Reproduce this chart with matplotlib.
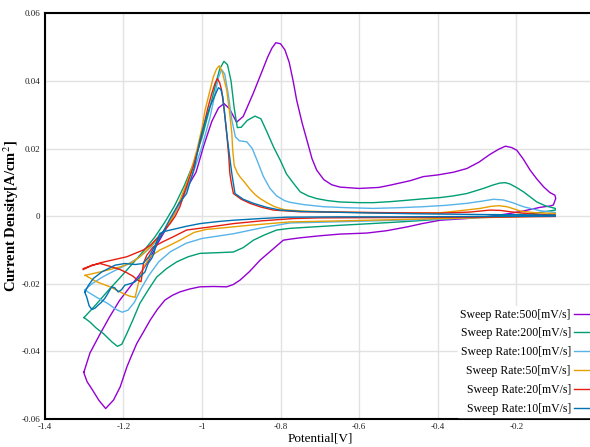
"""Cyclic voltammograms at six sweep rates, recreated with matplotlib.

    python plot.py  ->  out.png
"""
import matplotlib

matplotlib.use("Agg")
import matplotlib.pyplot as plt  # noqa: E402

# sweep rates, top to bottom in the legend
rates = [500, 200, 100, 50, 20, 10]
colors = ["#9400D3", "#009E73", "#56B4E9", "#E69F00", "#E51E10", "#0072B2"]

# each loop: anodic branch left -> right, then cathodic branch back to the start
v500 = [-1.300, -1.285, -1.260, -1.235, -1.210, -1.185, -1.160, -1.135, -1.110, -1.080,
        -1.045, -1.015, -0.995, -0.975, -0.958, -0.944, -0.930, -0.912, -0.895, -0.870,
        -0.850, -0.833, -0.822, -0.812, -0.800, -0.789, -0.778, -0.768, -0.759, -0.745,
        -0.733, -0.720, -0.708, -0.690, -0.670, -0.649, -0.600, -0.550, -0.520, -0.470,
        -0.437, -0.400, -0.360, -0.326, -0.295, -0.267, -0.245, -0.228, -0.212, -0.199,
        -0.182, -0.165, -0.148, -0.131, -0.115, -0.102, -0.100,
        -0.106, -0.115, -0.140, -0.180, -0.216, -0.270, -0.326, -0.394, -0.440, -0.479,
        -0.530, -0.581, -0.649, -0.700, -0.750, -0.776, -0.793, -0.820, -0.852, -0.880,
        -0.903, -0.920, -0.937, -0.970, -1.005, -1.030, -1.056, -1.075, -1.094, -1.113,
        -1.132, -1.150, -1.166, -1.180, -1.191, -1.208, -1.225, -1.245, -1.262, -1.278,
        -1.292, -1.300, -1.300]
i500 = [-0.0460, -0.0405, -0.0350, -0.0298, -0.0250, -0.0212, -0.0175, -0.0130, -0.0075, -0.0015,
        0.0070, 0.0130, 0.0210, 0.0280, 0.0320, 0.0333, 0.0318, 0.0278, 0.0295, 0.0362,
        0.0420, 0.0470, 0.0497, 0.0513, 0.0510, 0.0492, 0.0455, 0.0400, 0.0343, 0.0275,
        0.0225, 0.0170, 0.0136, 0.0108, 0.0093, 0.0086, 0.0082, 0.0085, 0.0092, 0.0105,
        0.0117, 0.0122, 0.0130, 0.0141, 0.0160, 0.0183, 0.0198, 0.0207, 0.0203, 0.0195,
        0.0168, 0.0136, 0.0110, 0.0087, 0.0070, 0.0062, 0.0052,
        0.0033, 0.0030, 0.0026, 0.0016, 0.0008, -0.0001, -0.0007, -0.0012, -0.0022, -0.0032,
        -0.0043, -0.0050, -0.0053, -0.0058, -0.0064, -0.0068, -0.0071, -0.0098, -0.0130, -0.0165,
        -0.0189, -0.0202, -0.0209, -0.0208, -0.0209, -0.0215, -0.0224, -0.0234, -0.0248, -0.0275,
        -0.0308, -0.0345, -0.0377, -0.0415, -0.0446, -0.0505, -0.0544, -0.0569, -0.0545, -0.0515,
        -0.0490, -0.0465, -0.0460]

v200 = [-1.300, -1.270, -1.240, -1.210, -1.180, -1.150, -1.120, -1.094, -1.070, -1.045,
        -1.020, -0.998, -0.980, -0.965, -0.955, -0.944, -0.935, -0.926, -0.918, -0.910,
        -0.900, -0.885, -0.865, -0.850, -0.835, -0.818, -0.801, -0.785, -0.767, -0.750,
        -0.730, -0.708, -0.680, -0.649, -0.600, -0.564, -0.520, -0.479, -0.440, -0.394,
        -0.360, -0.326, -0.284, -0.260, -0.242, -0.228, -0.216, -0.200, -0.182, -0.165,
        -0.148, -0.125, -0.101,
        -0.101, -0.157, -0.242, -0.300, -0.369, -0.430, -0.496, -0.570, -0.649, -0.720,
        -0.776, -0.810, -0.840, -0.869, -0.895, -0.920, -0.960, -1.005, -1.035, -1.064,
        -1.090, -1.115, -1.135, -1.158, -1.175, -1.191, -1.204, -1.215, -1.229, -1.251,
        -1.270, -1.285, -1.300]
i200 = [-0.0300, -0.0262, -0.0222, -0.0184, -0.0145, -0.0105, -0.0062, -0.0017, 0.0030, 0.0090,
        0.0160, 0.0240, 0.0320, 0.0390, 0.0435, 0.0458, 0.0448, 0.0400, 0.0320, 0.0262,
        0.0263, 0.0283, 0.0296, 0.0288, 0.0250, 0.0205, 0.0166, 0.0125, 0.0097, 0.0072,
        0.0060, 0.0052, 0.0046, 0.0042, 0.0040, 0.0040, 0.0043, 0.0047, 0.0051, 0.0055,
        0.0060, 0.0067, 0.0082, 0.0092, 0.0098, 0.0099, 0.0095, 0.0085, 0.0072, 0.0057,
        0.0042, 0.0030, 0.0023,
        0.0018, 0.0008, 0.0001, -0.0003, -0.0007, -0.0012, -0.0017, -0.0022, -0.0027, -0.0032,
        -0.0036, -0.0041, -0.0055, -0.0071, -0.0093, -0.0106, -0.0108, -0.0110, -0.0120, -0.0135,
        -0.0155, -0.0180, -0.0215, -0.0258, -0.0305, -0.0347, -0.0379, -0.0385, -0.0372, -0.0347,
        -0.0330, -0.0313, -0.0300]

v100 = [-1.298, -1.280, -1.250, -1.220, -1.190, -1.160, -1.130, -1.100, -1.075, -1.050,
        -1.025, -1.000, -0.980, -0.967, -0.958, -0.950, -0.942, -0.933, -0.924, -0.915,
        -0.905, -0.886, -0.872, -0.858, -0.844, -0.827, -0.810, -0.790, -0.776, -0.740,
        -0.691, -0.630, -0.564, -0.500, -0.437, -0.380, -0.326, -0.290, -0.258, -0.233,
        -0.210, -0.182, -0.140, -0.101,
        -0.101, -0.200, -0.300, -0.400, -0.500, -0.600, -0.700, -0.776, -0.850, -0.920,
        -1.000, -1.040, -1.080, -1.110, -1.135, -1.155, -1.172, -1.188, -1.203, -1.218,
        -1.240, -1.265, -1.285, -1.298]
i100 = [-0.0218, -0.0200, -0.0178, -0.0160, -0.0143, -0.0122, -0.0092, -0.0050, -0.0005, 0.0050,
        0.0120, 0.0205, 0.0290, 0.0360, 0.0410, 0.0434, 0.0420, 0.0360, 0.0285, 0.0235,
        0.0223, 0.0220, 0.0200, 0.0160, 0.0118, 0.0082, 0.0060, 0.0046, 0.0041, 0.0034,
        0.0028, 0.0025, 0.0023, 0.0025, 0.0028, 0.0032, 0.0038, 0.0044, 0.0050, 0.0048,
        0.0040, 0.0028, 0.0016, 0.0011,
        0.0005, 0.0000, -0.0005, -0.0009, -0.0012, -0.0015, -0.0018, -0.0020, -0.0035, -0.0052,
        -0.0066, -0.0080, -0.0105, -0.0135, -0.0175, -0.0215, -0.0255, -0.0278, -0.0284, -0.0276,
        -0.0258, -0.0242, -0.0228, -0.0218]

v50 = [-1.297, -1.259, -1.208, -1.180, -1.158, -1.140, -1.124, -1.105, -1.090, -1.073,
       -1.055, -1.039, -1.025, -1.013, -1.000, -0.992, -0.980, -0.971, -0.963, -0.956,
       -0.948, -0.937, -0.930, -0.924, -0.922, -0.918, -0.910, -0.903, -0.890, -0.878,
       -0.865, -0.852, -0.835, -0.815, -0.790, -0.742, -0.650, -0.521, -0.394, -0.369,
       -0.330, -0.292, -0.265, -0.245, -0.224, -0.205, -0.190, -0.150, -0.101,
       -0.101, -0.200, -0.350, -0.500, -0.650, -0.776, -0.880, -0.950, -0.988, -1.020,
       -1.056, -1.085, -1.107, -1.132, -1.148, -1.158, -1.165, -1.170, -1.185, -1.200,
       -1.234, -1.268, -1.297]
i50 = [-0.0175, -0.0165, -0.0150, -0.0138, -0.0120, -0.0100, -0.0081, -0.0055, -0.0032, -0.0002,
       0.0050, 0.0097, 0.0145, 0.0195, 0.0260, 0.0314, 0.0370, 0.0412, 0.0435, 0.0445,
       0.0425, 0.0373, 0.0310, 0.0245, 0.0200, 0.0150, 0.0128, 0.0116, 0.0098, 0.0080,
       0.0064, 0.0052, 0.0040, 0.0028, 0.0019, 0.0015, 0.0012, 0.0009, 0.0010, 0.0013,
       0.0018, 0.0023, 0.0029, 0.0031, 0.0028, 0.0021, 0.0015, 0.0010, 0.0008,
       0.0002, -0.0002, -0.0006, -0.0010, -0.0014, -0.0017, -0.0027, -0.0035, -0.0039, -0.0048,
       -0.0071, -0.0088, -0.0100, -0.0120, -0.0150, -0.0180, -0.0215, -0.0240, -0.0236, -0.0229,
       -0.0209, -0.0194, -0.0175]

v20 = [-1.302, -1.259, -1.191, -1.149, -1.130, -1.115, -1.098, -1.081, -1.068, -1.056,
       -1.040, -1.022, -1.008, -0.996, -0.985, -0.975, -0.967, -0.961, -0.955, -0.950,
       -0.943, -0.937, -0.932, -0.929, -0.924, -0.920, -0.900, -0.878, -0.850, -0.818,
       -0.750, -0.650, -0.500, -0.394, -0.320, -0.267, -0.240, -0.216, -0.157, -0.101,
       -0.101, -0.300, -0.500, -0.700, -0.767, -0.850, -0.920, -0.980, -1.039, -1.073,
       -1.100, -1.124, -1.140, -1.149, -1.152, -1.155, -1.165, -1.175, -1.190, -1.208,
       -1.235, -1.259, -1.280, -1.302]
i20 = [-0.0155, -0.0138, -0.0120, -0.0100, -0.0085, -0.0066, -0.0045, -0.0022, 0.0000, 0.0028,
       0.0085, 0.0146, 0.0205, 0.0264, 0.0320, 0.0363, 0.0392, 0.0407, 0.0395, 0.0373,
       0.0310, 0.0245, 0.0180, 0.0126, 0.0090, 0.0067, 0.0050, 0.0038, 0.0027, 0.0018,
       0.0013, 0.0012, 0.0010, 0.0009, 0.0012, 0.0018, 0.0017, 0.0013, 0.0006, 0.0003,
       -0.0001, -0.0003, -0.0004, -0.0005, -0.0007, -0.0014, -0.0022, -0.0032, -0.0041, -0.0061,
       -0.0076, -0.0091, -0.0115, -0.0140, -0.0170, -0.0194, -0.0188, -0.0178, -0.0168, -0.0158,
       -0.0148, -0.0140, -0.0145, -0.0158]

v10 = [-1.298, -1.289, -1.276, -1.255, -1.221, -1.196, -1.170, -1.150, -1.135, -1.119,
       -1.105, -1.094, -1.080, -1.060, -1.039, -1.020, -1.005, -0.992, -0.980, -0.964,
       -0.958, -0.952, -0.947, -0.942, -0.937, -0.930, -0.924, -0.916, -0.895, -0.869,
       -0.835, -0.801, -0.750, -0.600, -0.450, -0.300, -0.200, -0.101,
       -0.101, -0.300, -0.500, -0.650, -0.784, -0.850, -0.920, -0.960, -1.005, -1.040,
       -1.073, -1.095, -1.107, -1.115, -1.122, -1.128, -1.137, -1.145, -1.158, -1.170,
       -1.183, -1.196, -1.205, -1.213, -1.222, -1.230, -1.240, -1.247, -1.256, -1.264,
       -1.272, -1.280, -1.287, -1.293, -1.298]
i10 = [-0.0225, -0.0205, -0.0184, -0.0165, -0.0145, -0.0140, -0.0143, -0.0140, -0.0120, -0.0086,
       -0.0060, -0.0036, -0.0005, 0.0035, 0.0067, 0.0140, 0.0225, 0.0280, 0.0323, 0.0365,
       0.0380, 0.0375, 0.0353, 0.0300, 0.0245, 0.0180, 0.0126, 0.0067, 0.0050, 0.0038,
       0.0026, 0.0018, 0.0014, 0.0010, 0.0007, 0.0005, 0.0004, 0.0003,
       0.0000, -0.0001, -0.0002, -0.0002, -0.0003, -0.0007, -0.0012, -0.0016, -0.0022, -0.0030,
       -0.0039, -0.0045, -0.0051, -0.0075, -0.0110, -0.0125, -0.0140, -0.0165, -0.0180, -0.0194,
       -0.0200, -0.0204, -0.0218, -0.0224, -0.0212, -0.0209, -0.0230, -0.0243, -0.0255, -0.0263,
       -0.0272, -0.0276, -0.0265, -0.0240, -0.0225]

curves_v = [v500, v200, v100, v50, v20, v10]
curves_i = [i500, i200, i100, i50, i20, i10]

xticks = [-1.4, -1.2, -1.0, -0.8, -0.6, -0.4, -0.2]
xticklabels = ["-1.4", "-1.2", "-1", "-0.8", "-0.6", "-0.4", "-0.2"]
yticks = [-0.06, -0.04, -0.02, 0.0, 0.02, 0.04, 0.06]
yticklabels = ["-0.06", "-0.04", "-0.02", "0", "0.02", "0.04", "0.06"]


def main() -> None:
    plt.rcParams["font.family"] = ["Liberation Serif", "DejaVu Serif"]
    plt.rcParams["mathtext.fontset"] = "stix"
    plt.rcParams["axes.unicode_minus"] = False

    fig = plt.figure(figsize=(5.90, 4.47), dpi=100)
    # the right edge of the plot box (V = 0) sits just outside the picture
    ax = fig.add_axes([0.0758, 0.0626, 0.9327, 0.9076])

    for rate, col, vv, ii in zip(rates, colors, curves_v, curves_i):
        ax.plot(vv, ii, color=col, lw=1.0, label=f"Sweep Rate:{rate}[mV/s]")

    ax.set_xlim(-1.4, 0.0)
    ax.set_ylim(-0.06, 0.06)
    ax.set_xticks(xticks)
    ax.set_xticklabels(xticklabels)
    ax.set_yticks(yticks)
    ax.set_yticklabels(yticklabels)
    ax.tick_params(length=0, labelsize=6.5, pad=3, labelcolor="#222222")

    ax.grid(True, color="#e2e2e2", lw=1.0)
    ax.set_axisbelow(True)
    for side in ("left", "top", "bottom"):
        ax.spines[side].set_linewidth(1.5)
    ax.spines["right"].set_visible(False)

    ax.set_xlabel("Potential[V]", fontsize=9.5, labelpad=1)
    ax.set_ylabel("Current Density[A/cm$^2$]", fontsize=10.5, fontweight="bold")
    ax.yaxis.set_label_coords(-0.043, 0.5)

    leg = ax.legend(loc="lower right", bbox_to_anchor=(1.0, 0.0), markerfirst=False,
                    fontsize=8.5, handlelength=1.4, handletextpad=0.3, labelspacing=0.58,
                    borderpad=0.2, borderaxespad=0.15, frameon=True, fancybox=False)
    leg.get_frame().set_edgecolor("white")
    leg.get_frame().set_alpha(1.0)

    fig.savefig("out.png", dpi=100)


if __name__ == "__main__":
    main()
